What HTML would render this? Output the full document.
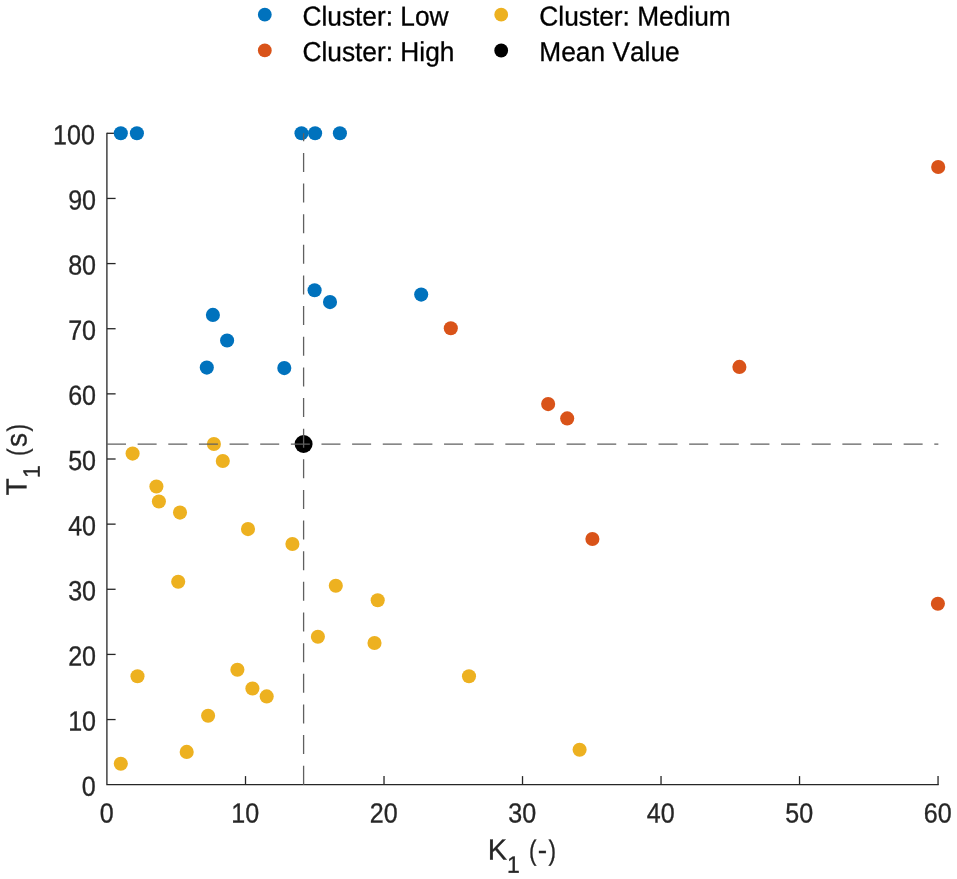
<!DOCTYPE html>
<html lang="en"><head><meta charset="utf-8"><title>Cluster scatter plot</title>
<style>html,body{margin:0;padding:0;background:#fff;}body{width:957px;height:879px;overflow:hidden;}svg{display:block;will-change:transform;}text{font-family:"Liberation Sans",Arial,Helvetica,sans-serif;stroke-width:0.3px;font-kerning:none;}.tk{font-size:25.7px;fill:#262626;stroke:#262626;}.lb{font-size:28.2px;fill:#262626;stroke:#262626;}.sb{font-size:23px;fill:#262626;stroke:#262626;}.pr{font-size:28.2px;fill:#262626;stroke:#262626;}.lg{font-size:26.3px;fill:#000;stroke:#000;}</style></head><body>
<svg width="957" height="879" viewBox="0 0 957 879">
<rect width="957" height="879" fill="#fff"/>
<g stroke="#262626" stroke-width="1.3" fill="none" stroke-linecap="butt">
<path d="M106.9 132.65V784.7H938.7"/>
<path d="M245.51 784.7v-8.6"/>
<path d="M384.02 784.7v-8.6"/>
<path d="M522.52 784.7v-8.6"/>
<path d="M661.03 784.7v-8.6"/>
<path d="M799.54 784.7v-8.6"/>
<path d="M938.05 784.7v-8.6"/>
<path d="M107 719.56h8.6"/>
<path d="M107 654.42h8.6"/>
<path d="M107 589.28h8.6"/>
<path d="M107 524.14h8.6"/>
<path d="M107 459.00h8.6"/>
<path d="M107 393.86h8.6"/>
<path d="M107 328.72h8.6"/>
<path d="M107 263.58h8.6"/>
<path d="M107 198.44h8.6"/>
<path d="M107 133.30h8.6"/>
</g>
<text class="tk" transform="translate(106.70 822.45) rotate(0.03) scale(0.975 1.077)" text-anchor="middle">0</text>
<text class="tk" transform="translate(245.21 822.45) rotate(0.03) scale(0.975 1.077)" text-anchor="middle">10</text>
<text class="tk" transform="translate(383.72 822.45) rotate(0.03) scale(0.975 1.077)" text-anchor="middle">20</text>
<text class="tk" transform="translate(522.22 822.45) rotate(0.03) scale(0.975 1.077)" text-anchor="middle">30</text>
<text class="tk" transform="translate(660.73 822.45) rotate(0.03) scale(0.975 1.077)" text-anchor="middle">40</text>
<text class="tk" transform="translate(799.24 822.45) rotate(0.03) scale(0.975 1.077)" text-anchor="middle">50</text>
<text class="tk" transform="translate(937.75 822.45) rotate(0.03) scale(0.975 1.077)" text-anchor="middle">60</text>
<text class="tk" transform="translate(95.80 795.70) rotate(0.03) scale(0.975 1.077)" text-anchor="end">0</text>
<text class="tk" transform="translate(96.00 730.56) rotate(0.03) scale(0.975 1.077)" text-anchor="end">10</text>
<text class="tk" transform="translate(96.00 665.42) rotate(0.03) scale(0.975 1.077)" text-anchor="end">20</text>
<text class="tk" transform="translate(96.00 600.28) rotate(0.03) scale(0.975 1.077)" text-anchor="end">30</text>
<text class="tk" transform="translate(96.00 535.14) rotate(0.03) scale(0.975 1.077)" text-anchor="end">40</text>
<text class="tk" transform="translate(96.00 470.00) rotate(0.03) scale(0.975 1.077)" text-anchor="end">50</text>
<text class="tk" transform="translate(96.00 404.86) rotate(0.03) scale(0.975 1.077)" text-anchor="end">60</text>
<text class="tk" transform="translate(96.00 339.72) rotate(0.03) scale(0.975 1.077)" text-anchor="end">70</text>
<text class="tk" transform="translate(96.00 274.58) rotate(0.03) scale(0.975 1.077)" text-anchor="end">80</text>
<text class="tk" transform="translate(96.00 209.44) rotate(0.03) scale(0.975 1.077)" text-anchor="end">90</text>
<text class="tk" transform="translate(94.90 144.30) rotate(0.03) scale(0.975 1.077)" text-anchor="end">100</text>
<g fill="#0072BD">
<circle cx="120.8" cy="133.3" r="7.05"/>
<circle cx="136.9" cy="133.3" r="7.05"/>
<circle cx="301.5" cy="133.3" r="7.05"/>
<circle cx="315.1" cy="133.3" r="7.05"/>
<circle cx="339.9" cy="133.3" r="7.05"/>
<circle cx="314.6" cy="290.3" r="7.05"/>
<circle cx="330" cy="302.1" r="7.05"/>
<circle cx="421.2" cy="294.6" r="7.05"/>
<circle cx="212.9" cy="314.9" r="7.05"/>
<circle cx="227.1" cy="340.5" r="7.05"/>
<circle cx="206.8" cy="367.6" r="7.05"/>
<circle cx="284.3" cy="368.1" r="7.05"/>
</g>
<g fill="#D95319">
<circle cx="450.8" cy="328.3" r="7.05"/>
<circle cx="548.15" cy="404.1" r="7.05"/>
<circle cx="567.2" cy="418.4" r="7.05"/>
<circle cx="739.4" cy="366.9" r="7.05"/>
<circle cx="938.2" cy="167" r="7.05"/>
<circle cx="592.4" cy="539" r="7.05"/>
<circle cx="937.9" cy="603.7" r="7.05"/>
</g>
<g fill="#EDB120">
<circle cx="213.9" cy="443.95" r="7.05"/>
<circle cx="132.6" cy="453.6" r="7.05"/>
<circle cx="222.8" cy="460.95" r="7.05"/>
<circle cx="156.4" cy="486.5" r="7.05"/>
<circle cx="158.9" cy="501.5" r="7.05"/>
<circle cx="180" cy="512.6" r="7.05"/>
<circle cx="248" cy="529.1" r="7.05"/>
<circle cx="292.4" cy="544" r="7.05"/>
<circle cx="178.2" cy="581.8" r="7.05"/>
<circle cx="335.8" cy="585.7" r="7.05"/>
<circle cx="377.7" cy="600.3" r="7.05"/>
<circle cx="317.9" cy="636.7" r="7.05"/>
<circle cx="374.5" cy="643" r="7.05"/>
<circle cx="137.5" cy="676.2" r="7.05"/>
<circle cx="237.4" cy="669.7" r="7.05"/>
<circle cx="252.4" cy="688.5" r="7.05"/>
<circle cx="266.7" cy="696.4" r="7.05"/>
<circle cx="208.1" cy="715.8" r="7.05"/>
<circle cx="186.7" cy="751.9" r="7.05"/>
<circle cx="120.8" cy="763.8" r="7.05"/>
<circle cx="469" cy="676.3" r="7.05"/>
<circle cx="579.6" cy="749.8" r="7.05"/>
</g>
<circle cx="303.6" cy="444.0" r="9" fill="#000"/>
<g stroke="#606060" stroke-width="1.3" fill="none" stroke-dasharray="19 11.64">
<path d="M107 444.1H938.35"/>
<path d="M303.6 784.7V133.3"/>
</g>
<text class="lb" transform="translate(487.75 859.40) rotate(0.03) scale(1.025 1.035)">K</text>
<text class="sb" transform="translate(507.10 872.70) rotate(0.03) scale(1 1.035)">1</text>
<text class="pr" transform="translate(529.05 859.80) rotate(0.03) scale(0.8 1)">(</text>
<text class="pr" transform="translate(537.70 859.55) rotate(0.03) scale(1 1)">-</text>
<text class="pr" transform="translate(548.50 859.80) rotate(0.03) scale(0.8 1)">)</text>
<g transform="translate(26.45 495.6) rotate(-89.97)">
<text class="lb" transform="translate(0.00 0.00) scale(1 1.035)">T</text>
<text class="sb" transform="translate(17.60 13.20) scale(1 1.035)">1</text>
<text class="pr" transform="translate(39.50 0.30) scale(0.8 1)">(</text>
<text class="lb" transform="translate(48.70 0.00) scale(1 1.035)">s</text>
<text class="pr" transform="translate(64.10 0.30) scale(0.8 1)">)</text>
</g>
<circle cx="264.8" cy="14.7" r="6.9" fill="#0072BD"/>
<text class="lg" transform="translate(302.45 25.40) rotate(0.03) scale(1 1.035)">Cluster: Low</text>
<circle cx="264.8" cy="50.4" r="6.9" fill="#D95319"/>
<text class="lg" transform="translate(302.45 61.00) rotate(0.03) scale(1 1.035)">Cluster: High</text>
<circle cx="501.2" cy="14.7" r="6.9" fill="#EDB120"/>
<text class="lg" transform="translate(539.35 25.40) rotate(0.03) scale(1 1.035)">Cluster: Medium</text>
<circle cx="501.2" cy="50.5" r="6.9" fill="#000"/>
<text class="lg" transform="translate(539.35 61.00) rotate(0.03) scale(1 1.035)">Mean Value</text>
</svg></body></html>
